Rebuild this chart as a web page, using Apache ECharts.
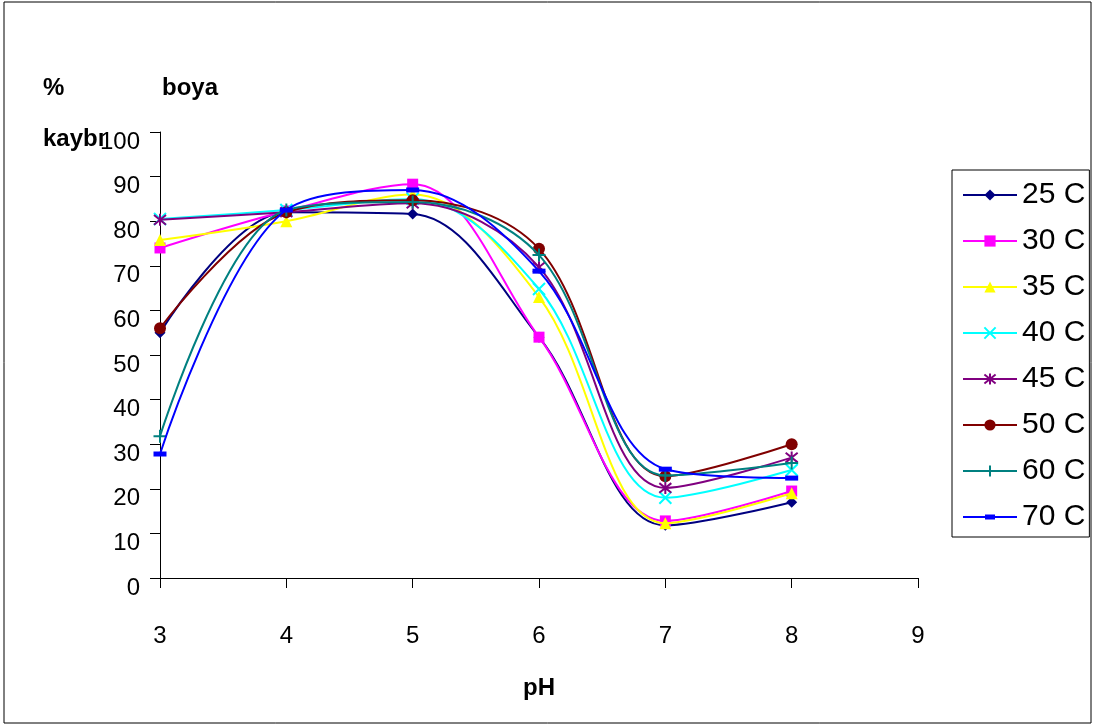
<!DOCTYPE html>
<html><head><meta charset="utf-8">
<script src="https://cdn.jsdelivr.net/npm/echarts@6/dist/echarts.min.js"></script>
<style>html,body{margin:0;padding:0;background:#fff}#c{width:1094px;height:728px}</style>
</head><body><div id="c"></div>
<script>
const pH = [3, 4, 5, 6, 7, 8];
const seriesNames = ['25 C', '30 C', '35 C', '40 C', '45 C', '50 C', '60 C', '70 C'];
const v25 = [55, 82, 81.6, 54, 11.8, 17];
const v30 = [74, 82.3, 88.3, 54, 12.8, 19.5];
const v35 = [75.8, 80, 86, 63, 12.3, 19];
const v40 = [80.5, 82.5, 85, 64.8, 18, 24.2];
const v45 = [80.3, 82, 84, 69.7, 20.2, 27];
const v50 = [56, 82, 84.7, 73.8, 22.8, 30];
const v60 = [31.8, 82.5, 84.3, 72.4, 23, 25.8];
const v70 = [27.8, 82.5, 87, 68.8, 24.4, 22.4];
const yTicks = [0, 10, 20, 30, 40, 50, 60, 70, 80, 90, 100];
const xTicks = [3, 4, 5, 6, 7, 8, 9];

const allVals = [v25, v30, v35, v40, v45, v50, v60, v70];
const colors = ['#000080', '#FF00FF', '#FFFF00', '#00FFFF', '#800080', '#800000', '#008080', '#0000FF'];
const symbols = [
  'diamond', 'rect', 'triangle',
  'path://M0,0L10,10M10,0L0,10',
  'path://M0,1L10,9M10,1L0,9M5,0L5,10',
  'circle',
  'path://M5,0L5,10M0,5L10,5',
  'rect'
];
const sizes = [11, 11, 12, 12, 12, 12, 13, [13, 5]];
const strokeOnly = [false, false, false, true, true, false, true, false];

const series = seriesNames.map((n, i) => ({
  name: n, type: 'line', smooth: 0.35,
  data: pH.map((x, j) => [x, allVals[i][j]]),
  color: colors[i],
  symbol: symbols[i], symbolSize: sizes[i],
  showAllSymbol: true,
  lineStyle: {width: 2, color: colors[i]},
  itemStyle: strokeOnly[i] ? {color: 'rgba(0,0,0,0)', borderColor: colors[i], borderWidth: 2} : {color: colors[i], borderWidth: 0},
  emphasis: {disabled: true},
  z: 2 + i
}));

const legendData = seriesNames.map((n, i) => i === 7
  ? {name: n, icon: 'path://M0,6L54,6L54,8L0,8Z M22,4.5L32,4.5L32,9.5L22,9.5Z', itemStyle: {color: colors[i]}}
  : {name: n});

const chart = echarts.init(document.getElementById('c'), null, {renderer: 'canvas'});
chart.setOption({
  animation: false,
  backgroundColor: '#fff',
  textStyle: {fontFamily: 'Liberation Sans, Arial, sans-serif'},
  grid: {left: 160, right: 176, top: 132, bottom: 150, containLabel: false},
  xAxis: {
    type: 'value', min: xTicks[0], max: xTicks[xTicks.length - 1], interval: 1,
    name: 'pH', nameLocation: 'middle', nameGap: 98,
    nameTextStyle: {fontSize: 24, fontWeight: 'bold', color: '#000'},
    axisLine: {lineStyle: {color: '#000', width: 1}},
    axisTick: {show: true, inside: false, length: 10, lineStyle: {color: '#000'}},
    axisLabel: {fontSize: 24, color: '#000', margin: 46},
    splitLine: {show: false}
  },
  yAxis: {
    type: 'value', min: yTicks[0], max: yTicks[yTicks.length - 1], interval: 10,
    axisLine: {show: true, lineStyle: {color: '#000', width: 1}},
    axisTick: {show: true, inside: false, length: 10, lineStyle: {color: '#000'}},
    axisLabel: {fontSize: 24, color: '#000', margin: 20, verticalAlign: 'top', lineHeight: 20},
    splitLine: {show: false}
  },
  legend: {
    orient: 'vertical', left: 952, top: 170,
    itemWidth: 54, itemHeight: 14, itemGap: 16,
    padding: [10, 4, 5, 10],
    borderColor: '#000', borderWidth: 1,
    textStyle: {fontSize: 30, lineHeight: 30, color: '#000'},
    data: legendData,
    selectedMode: false
  },
  graphic: [
    {type: 'rect', shape: {x: 4, y: 2, width: 1087, height: 721}, style: {fill: 'none', stroke: '#000', lineWidth: 1}, silent: true, z: -1},
    {type: 'text', left: 43, top: 76, style: {text: '%', font: 'bold 24px Liberation Sans, Arial', fill: '#000'}},
    {type: 'text', left: 162, top: 76, style: {text: 'boya', font: 'bold 24px Liberation Sans, Arial', fill: '#000'}},
    {type: 'text', left: 43, top: 127, style: {text: 'kaybı', font: 'bold 24px Liberation Sans, Arial', fill: '#000'}}
  ],
  series: series
});
</script>
</body></html>
